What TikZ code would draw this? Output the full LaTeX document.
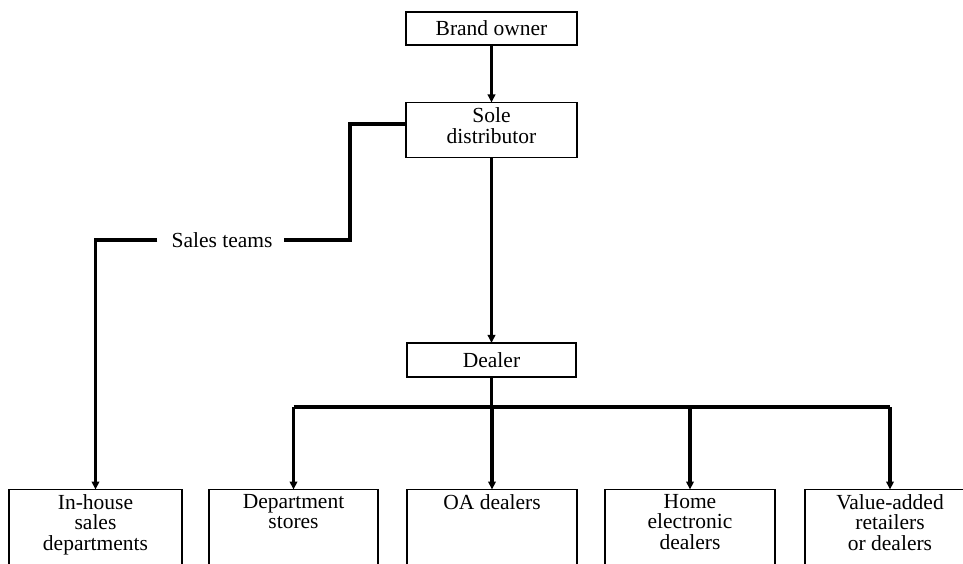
\documentclass[tikz,border=0pt]{standalone}
\usepackage{fontspec}
\setmainfont{Liberation Serif}
\usetikzlibrary{arrows.meta}
\begin{document}
\begin{tikzpicture}[x=1pt,y=-1pt,
  every node/.style={font=\fontsize{21.5}{20.5}\selectfont},
  box/.style={draw, line width=1.1pt, inner sep=0pt, align=center},
  txt/.style={inner sep=0pt, align=center, anchor=north},
  conn/.style={line width=3.1pt},
  arr/.style={conn, -{Triangle[length=8pt,width=7.5pt]}, shorten >=-0.5pt}
]
\useasboundingbox (0,0) rectangle (963,563);
\clip (0,0) rectangle (963,563);

% upper chain
\node[box, minimum width=171pt, minimum height=33pt] (bo) at (491.5,28.5) {Brand owner};
\node[box, minimum width=171pt, minimum height=55pt] (sd) at (491.5,130) {};
\node[inner sep=0pt, align=center] (tsd) at ([yshift=4.5pt]sd.center) {Sole\\distributor};
\node[box, minimum width=169pt, minimum height=34pt] (dl) at (491.5,360) {Dealer};

% sales-team branch
\node[inner sep=0pt] (st) at (222,240) {Sales teams};

% outlets (boxes run past the lower edge)
\node[box, minimum width=173pt, minimum height=100pt, anchor=north] (inh) at (95.5,489) {};
\node[box, minimum width=169pt, minimum height=100pt, anchor=north] (dep) at (293.5,489) {};
\node[box, minimum width=170pt, minimum height=100pt, anchor=north] (oa) at (492,489) {};
\node[box, minimum width=170pt, minimum height=100pt, anchor=north] (home) at (690,489) {};
\node[box, minimum width=170pt, minimum height=100pt, anchor=north] (val) at (890,489) {};

\node[txt] (tinh) at ([yshift=-5pt]inh.north) {In-house\\sales\\departments};
\node[txt] (tdep) at ([yshift=-5pt]dep.north) {Department\\stores};
\node[txt] (toa) at ([yshift=-5pt]oa.north) {OA dealers};
\node[txt] (thome) at ([yshift=-5pt]home.north) {Home\\electronic\\dealers};
\node[txt] (tval) at ([yshift=-5pt]val.north) {Value-added\\retailers\\or dealers};

% junction points
\coordinate (bus) at (491.5,407);
\coordinate (stcorner) at (350,240);

% connectors
\draw[arr] (bo.south) -- (sd.north);
\draw[arr] (sd.south) -- (dl.north);
\draw[conn] ([yshift=6pt]sd.west) -| (stcorner) -- ([xshift=11pt]st.east);
\draw[arr] ([xshift=-14pt]st.west) -| (inh.north);

\draw[conn] (dl.south) -- (bus);
\draw[conn] (dep.north |- bus) -- (val.north |- bus);
\foreach \t in {dep,oa,home,val}
  \draw[arr] (\t.north |- bus) -- (\t.north);
\end{tikzpicture}
\end{document}
